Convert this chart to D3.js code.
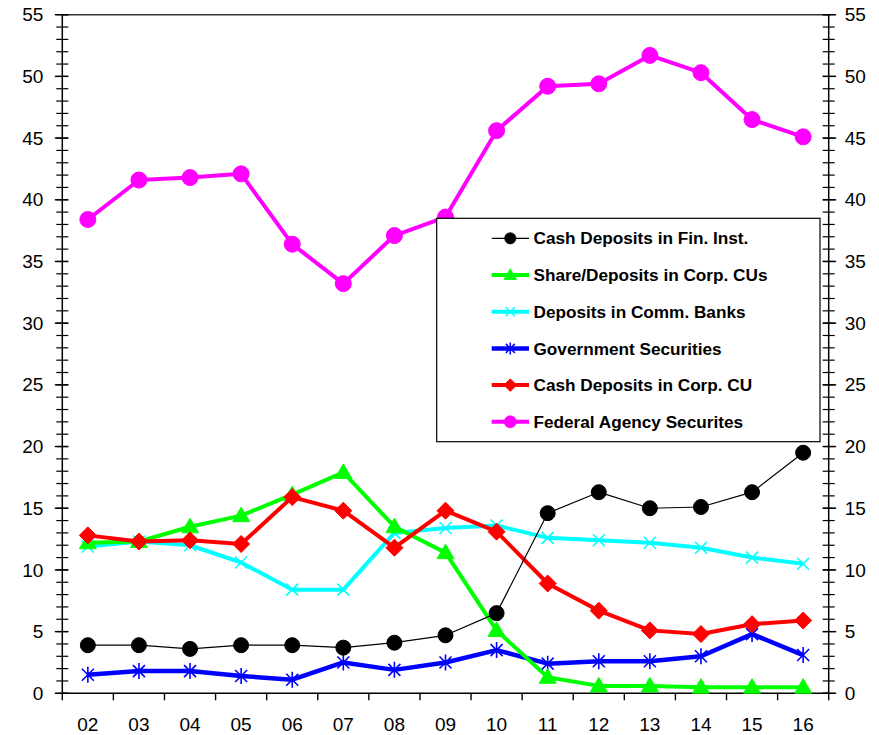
<!DOCTYPE html>
<html>
<head>
<meta charset="utf-8">
<script src="https://cdn.jsdelivr.net/npm/d3@7"></script>
<style>
  html, body { margin: 0; padding: 0; background: #fff; }
  svg { display: block; font-family: "Liberation Sans", Arial, sans-serif; }
</style>
</head>
<body>
<svg id="chart" width="879" height="735"></svg>
<script>
// Year labels along the bottom axis
const years = ["02","03","04","05","06","07","08","09","10","11","12","13","14","15","16"];

// Series values, one per year
const cashFinInst   = [3.9, 3.9, 3.6, 3.9, 3.9, 3.7, 4.1, 4.7, 6.5, 14.6, 16.3, 15.0, 15.1, 16.3, 19.5];
const shareCorpCUs  = [12.2, 12.3, 13.5, 14.4, 16.1, 17.9, 13.5, 11.4, 5.1, 1.3, 0.6, 0.6, 0.5, 0.5, 0.5];
const commBanks     = [11.9, 12.3, 12.0, 10.6, 8.4, 8.4, 13.0, 13.4, 13.6, 12.6, 12.4, 12.2, 11.8, 11.0, 10.5];
const govSecurities = [1.5, 1.8, 1.8, 1.4, 1.1, 2.5, 1.9, 2.5, 3.5, 2.4, 2.6, 2.6, 3.0, 4.8, 3.1];
const cashCorpCU    = [12.8, 12.3, 12.4, 12.1, 15.9, 14.8, 11.8, 14.8, 13.1, 8.9, 6.7, 5.1, 4.8, 5.6, 5.9];
const fedAgency     = [38.4, 41.6, 41.8, 42.1, 36.4, 33.2, 37.1, 38.6, 45.6, 49.2, 49.4, 51.7, 50.3, 46.5, 45.1];

// Y axis ticks
const yMajorTicks = [0, 5, 10, 15, 20, 25, 30, 35, 40, 45, 50, 55];
const yMinorTicks = d3.range(0, 56, 1);

const legendNames = [
  "Cash Deposits in Fin. Inst.",
  "Share/Deposits in Corp. CUs",
  "Deposits in Comm. Banks",
  "Government Securities",
  "Cash Deposits in Corp. CU",
  "Federal Agency Securites"
];

// Marker shapes
const circlePath = r => `M${-r},0A${r},${r} 0 1,0 ${r},0A${r},${r} 0 1,0 ${-r},0Z`;
const trianglePath = "M0,-8.5L8.5,6L-8.5,6Z";
const diamondPath = "M0,-8.5L8.5,0L0,8.5L-8.5,0Z";
const crossPath = "M-6,-6L6,6M-6,6L6,-6";
const starPath = "M-6,-6L6,6M-6,6L6,-6M0,-8L0,8";

const styles = [
  { color: "#000000", width: 1.2, marker: circlePath(7.5), fill: true },
  { color: "#00ff00", width: 4, marker: trianglePath, fill: true },
  { color: "#00ffff", width: 4, marker: crossPath, fill: false },
  { color: "#0000ff", width: 4.5, marker: starPath, fill: false },
  { color: "#ff0000", width: 4, marker: diamondPath, fill: true },
  { color: "#ff00ff", width: 4, marker: circlePath(8), fill: true }
];

const seriesValues = [cashFinInst, shareCorpCUs, commBanks, govSecurities, cashCorpCU, fedAgency];
const series = seriesValues.map((vals, i) => ({ name: legendNames[i], values: vals, style: styles[i] }));

const svg = d3.select("#chart");
const plotLeft = 62.3, plotRight = 828.7, plotTop = 14.7, plotBottom = 693.3;

const x = d3.scaleBand().domain(years).range([plotLeft, plotRight]).padding(0);
const y = d3.scaleLinear().domain([0, 55]).range([plotBottom, plotTop]);
const cx = d => x(d) + x.bandwidth() / 2;

// Frame
svg.append("line").attr("x1", plotLeft).attr("x2", plotRight).attr("y1", plotTop).attr("y2", plotTop)
  .attr("stroke", "#333").attr("stroke-width", 1.5);

// Left axis
const leftAxis = svg.append("g").attr("transform", `translate(${plotLeft},0)`);
leftAxis.append("line").attr("y1", plotTop).attr("y2", plotBottom).attr("stroke", "#000").attr("stroke-width", 1.5);
leftAxis.selectAll("line.minor").data(yMinorTicks).join("line").attr("class", "minor")
  .attr("x1", -6).attr("x2", 6).attr("y1", d => y(d)).attr("y2", d => y(d))
  .attr("stroke", "#000").attr("stroke-width", 1.2);
leftAxis.selectAll("line.major").data(yMajorTicks).join("line").attr("class", "major")
  .attr("x1", -7.5).attr("x2", 6).attr("y1", d => y(d)).attr("y2", d => y(d))
  .attr("stroke", "#000").attr("stroke-width", 1.4);
leftAxis.selectAll("text").data(yMajorTicks).join("text")
  .attr("x", -19).attr("y", d => y(d)).attr("dy", "0.35em")
  .attr("text-anchor", "end").attr("font-size", 19).attr("fill", "#000")
  .text(d => d);

// Right axis
const rightAxis = svg.append("g").attr("transform", `translate(${plotRight},0)`);
rightAxis.append("line").attr("y1", plotTop).attr("y2", plotBottom).attr("stroke", "#000").attr("stroke-width", 1.5);
rightAxis.selectAll("line.minor").data(yMinorTicks).join("line").attr("class", "minor")
  .attr("x1", -6).attr("x2", 6).attr("y1", d => y(d)).attr("y2", d => y(d))
  .attr("stroke", "#000").attr("stroke-width", 1.2);
rightAxis.selectAll("line.major").data(yMajorTicks).join("line").attr("class", "major")
  .attr("x1", -6).attr("x2", 7.5).attr("y1", d => y(d)).attr("y2", d => y(d))
  .attr("stroke", "#000").attr("stroke-width", 1.4);
rightAxis.selectAll("text").data(yMajorTicks).join("text")
  .attr("x", 16).attr("y", d => y(d)).attr("dy", "0.35em")
  .attr("text-anchor", "start").attr("font-size", 19).attr("fill", "#000")
  .text(d => d);

// Bottom axis: ticks at category boundaries, labels at centres
const bottomAxis = svg.append("g");
bottomAxis.append("line").attr("x1", plotLeft).attr("x2", plotRight).attr("y1", plotBottom).attr("y2", plotBottom)
  .attr("stroke", "#000").attr("stroke-width", 1.5);
const boundaries = years.map(d => x(d)).concat([plotRight]);
bottomAxis.selectAll("line.tick").data(boundaries).join("line").attr("class", "tick")
  .attr("x1", d => d).attr("x2", d => d).attr("y1", plotBottom).attr("y2", plotBottom + 7)
  .attr("stroke", "#000").attr("stroke-width", 1.4);
bottomAxis.selectAll("text").data(years).join("text")
  .attr("x", d => cx(d)).attr("y", 730.5)
  .attr("text-anchor", "middle").attr("font-size", 19).attr("fill", "#000")
  .text(d => d);

// Lines and markers (drawing order keeps black on top)
const drawOrder = [2, 3, 1, 4, 5, 0];
const line = d3.line().x((d, i) => cx(years[i])).y(d => y(d));
drawOrder.forEach(idx => {
  const s = series[idx];
  const g = svg.append("g");
  g.append("path").attr("d", line(s.values))
    .attr("fill", "none").attr("stroke", s.style.color)
    .attr("stroke-width", s.style.width).attr("stroke-linejoin", "round");
  g.selectAll("path.mk").data(s.values).join("path").attr("class", "mk")
    .attr("transform", (d, i) => `translate(${cx(years[i])},${y(d)})`)
    .attr("d", s.style.marker)
    .attr("fill", s.style.fill ? s.style.color : "none")
    .attr("stroke", s.style.color)
    .attr("stroke-width", s.style.fill ? 1 : 1.6);
});

// Legend
const lg = svg.append("g");
lg.append("rect").attr("x", 436.7).attr("y", 218.3).attr("width", 383.3).attr("height", 223.4)
  .attr("fill", "#fff").attr("stroke", "#000").attr("stroke-width", 1.2);
series.forEach((s, i) => {
  const ry = 238.3 + i * 36.7;
  lg.append("line").attr("x1", 491.7).attr("x2", 529).attr("y1", ry).attr("y2", ry)
    .attr("stroke", s.style.color).attr("stroke-width", s.style.width);
  const sc = 0.75;
  lg.append("path").attr("transform", `translate(510.3,${ry}) scale(${sc})`)
    .attr("d", s.style.marker)
    .attr("fill", s.style.fill ? s.style.color : "none")
    .attr("stroke", s.style.color)
    .attr("stroke-width", s.style.fill ? 1 : 2);
  lg.append("text").attr("x", 533.5).attr("y", ry).attr("dy", "0.36em")
    .attr("font-size", 17.2).attr("font-weight", "bold").attr("fill", "#000")
    .text(s.name);
});
</script>
</body>
</html>
